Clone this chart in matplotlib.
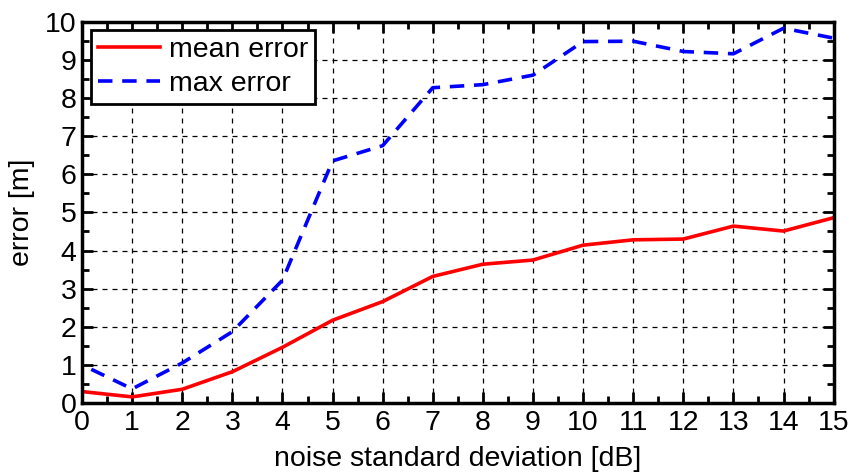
import matplotlib
matplotlib.use("Agg")
import matplotlib.pyplot as plt
from matplotlib.ticker import MultipleLocator

plt.rcParams["font.family"] = ["Liberation Sans", "DejaVu Sans"]

noise = [0, 1, 2, 3, 4, 5, 6, 7, 8, 9, 10, 11, 12, 13, 14, 15]
mean_error = [0.30, 0.16, 0.36, 0.82, 1.46, 2.17, 2.66, 3.32, 3.64, 3.75,
              4.14, 4.28, 4.30, 4.64, 4.51, 4.86]
# max error curve starts with a vertical stroke at 0 dB
noise_max = [0] + noise
max_error = [0.0, 1.0, 0.37, 1.05, 1.87, 3.22, 6.35, 6.75, 8.27, 8.35, 8.60,
             9.48, 9.49, 9.22, 9.16, 9.83, 9.57]

fig = plt.figure(figsize=(8.58, 4.73), dpi=100)
ax = fig.add_axes([0.0956, 0.148, 0.876, 0.806])

ax.plot(noise, mean_error, color="red", lw=2.6, label="mean error")
ax.plot(noise_max, max_error, color="blue", lw=2.6, ls=(0, (4, 2.7)),
        label="max error")

ax.set_xlim(0, 15)
ax.set_ylim(0, 10)
ax.xaxis.set_major_locator(MultipleLocator(1))
ax.xaxis.set_minor_locator(MultipleLocator(0.5))
ax.yaxis.set_major_locator(MultipleLocator(1))
ax.yaxis.set_minor_locator(MultipleLocator(0.5))

ax.grid(True, which="major", color="black", ls=(0, (4, 4)), lw=0.9)
ax.tick_params(which="both", direction="in", top=True, right=True,
               labelsize=20.5, width=2)
ax.tick_params(axis="x", pad=5)
ax.tick_params(axis="y", pad=4)
ax.tick_params(which="major", length=8)
ax.tick_params(which="minor", length=5)
for s in ax.spines.values():
    s.set_linewidth(2.5)

ax.set_xlabel("noise standard deviation [dB]", fontsize=20.5, labelpad=7)
ax.set_ylabel("error [m]", fontsize=20.5, labelpad=7)

leg = ax.legend(loc="upper left", fontsize=20.5, fancybox=False,
                framealpha=1, edgecolor="black", handlelength=2.2,
                handletextpad=0.3, borderpad=0.25, labelspacing=0.25,
                borderaxespad=0.3)
leg.get_frame().set_linewidth(2)

fig.savefig("out.png", dpi=100)
